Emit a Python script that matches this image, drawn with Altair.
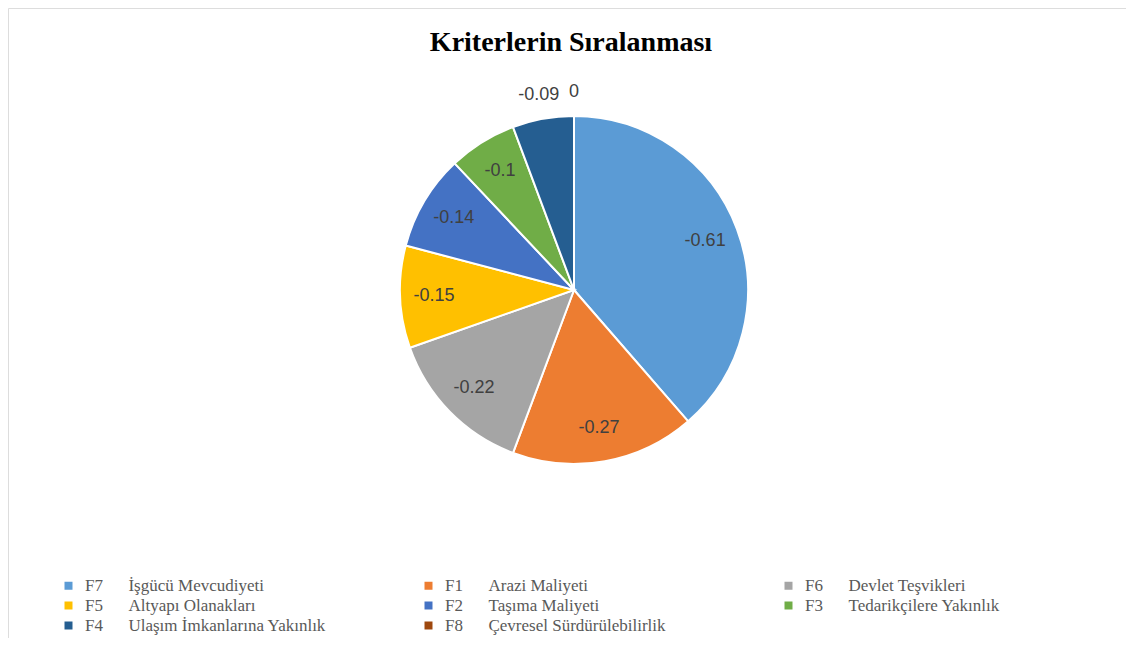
import altair as alt
import pandas as pd

# Data
codes = ["F7", "F1", "F6", "F5", "F2", "F3", "F4", "F8"]
names = [
    "İşgücü Mevcudiyeti",
    "Arazi Maliyeti",
    "Devlet Teşvikleri",
    "Altyapı Olanakları",
    "Taşıma Maliyeti",
    "Tedarikçilere Yakınlık",
    "Ulaşım İmkanlarına Yakınlık",
    "Çevresel Sürdürülebilirlik",
]
values = [-0.61, -0.27, -0.22, -0.15, -0.14, -0.1, -0.09, 0]
colors = ["#5B9BD5", "#ED7D31", "#A5A5A5", "#FFC000", "#4472C4", "#70AD47", "#255E91", "#9E480E"]

gap = "\u2003\u2002"
labels = [c + gap + n for c, n in zip(codes, names)]

df = pd.DataFrame({"kriter": labels, "deger": values, "sira": list(range(len(codes)))})

CX, CY = 566, 282
R = 174

base = alt.Chart(df).transform_calculate(
    buyukluk="abs(datum.deger)",
    ic="abs(datum.deger) >= 0.095 ? '' + datum.deger : ''",
    dis="abs(datum.deger) < 0.095 ? '' + datum.deger : ''",
).encode(
    theta=alt.Theta("buyukluk:Q", stack=True),
    order=alt.Order("sira:Q"),
)

pie = base.mark_arc(radius=R, stroke="white", strokeWidth=2).encode(
    x=alt.value(CX),
    y=alt.value(CY),
    color=alt.Color(
        "kriter:N",
        scale=alt.Scale(domain=labels, range=colors),
        legend=alt.Legend(
            title=None,
            orient="none",
            direction="horizontal",
            legendX=52,
            legendY=569,
            columns=3,
            gridAlign="all",
            columnPadding=94,
            rowPadding=2,
            padding=0,
            symbolType="square",
            symbolSize=64,
            symbolStrokeWidth=0,
            labelOffset=8,
            labelFont="Liberation Serif",
            labelFontSize=17,
            labelColor="#595959",
            labelLimit=0,
        ),
    ),
)

text_in = base.mark_text(radius=140, font="Liberation Sans", fontSize=18, color="#404040").encode(
    x=alt.value(CX),
    y=alt.value(CY),
    text="ic:N",
)

text_out = base.mark_text(radius=198, font="Liberation Sans", fontSize=18, color="#404040").encode(
    x=alt.value(CX),
    y=alt.value(CY),
    text="dis:N",
)

chart = (
    alt.layer(pie, text_in, text_out)
    .properties(
        width=1118,
        height=630,
        padding=0,
        title=alt.Title(
            "Kriterlerin Sıralanması",
            font="Liberation Serif",
            fontSize=28,
            fontWeight="bold",
            color="#000000",
            anchor="middle",
            offset=-49,
            dx=4,
        ),
    )
    .configure_view(stroke="#D9D9D9", strokeWidth=1)
    .configure(background="white")
)

chart.save("out.html", embed_options={"renderer": "svg", "actions": False})
